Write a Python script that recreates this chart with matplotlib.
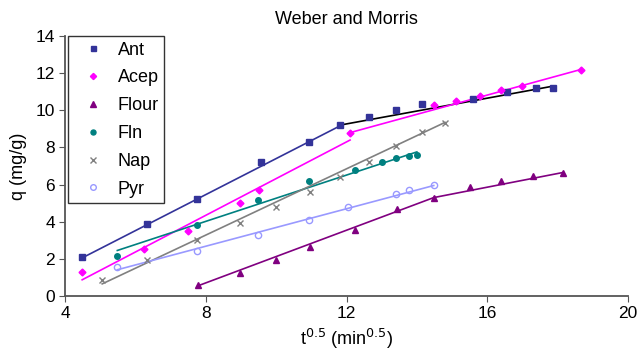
import matplotlib
matplotlib.use('Agg')
import matplotlib.pyplot as plt

plt.rcParams['font.family'] = ['Liberation Sans', 'DejaVu Sans']

# data
ant_x = [4.48, 6.33, 7.75, 9.57, 10.93, 11.8, 12.64, 13.4, 14.14, 15.6, 16.55, 17.4, 17.86]
ant_y = [2.1, 3.9, 5.2, 7.2, 8.3, 9.2, 9.66, 10.0, 10.35, 10.6, 11.0, 11.2, 11.2]
acep_x = [4.48, 6.25, 7.5, 8.97, 9.5, 12.1, 14.5, 15.1, 15.8, 16.4, 17.0, 18.66]
acep_y = [1.3, 2.55, 3.5, 5.0, 5.7, 8.8, 10.3, 10.5, 10.75, 11.1, 11.3, 12.2]
flour_x = [7.78, 8.97, 10.0, 10.96, 12.24, 13.43, 14.48, 15.5, 16.4, 17.3, 18.15]
flour_y = [0.6, 1.25, 1.95, 2.66, 3.58, 4.67, 5.3, 5.87, 6.2, 6.45, 6.65]
fln_x = [5.48, 7.75, 9.48, 10.93, 12.24, 13.0, 13.4, 13.77, 14.0]
fln_y = [2.17, 3.8, 5.15, 6.2, 6.8, 7.2, 7.43, 7.55, 7.6]
nap_x = [5.05, 6.33, 7.75, 8.97, 10.0, 10.96, 11.8, 12.64, 13.4, 14.14, 14.8]
nap_y = [0.87, 1.95, 3.04, 3.95, 4.77, 5.6, 6.4, 7.2, 8.1, 8.85, 9.33]
pyr_x = [5.48, 7.75, 9.48, 10.93, 12.05, 13.4, 13.77, 14.48]
pyr_y = [1.57, 2.44, 3.26, 4.07, 4.77, 5.48, 5.7, 5.97]

# fitted line segments (start, end)
ant_fit1_x = [4.48, 11.8]; ant_fit1_y = [2.05, 9.15]
ant_fit2_x = [11.8, 17.86]; ant_fit2_y = [9.2, 11.3]
acep_fit1_x = [4.48, 12.1]; acep_fit1_y = [0.87, 8.4]
acep_fit2_x = [12.1, 18.66]; acep_fit2_y = [8.8, 12.2]
flour_fit1_x = [7.78, 14.48]; flour_fit1_y = [0.55, 5.3]
flour_fit2_x = [14.48, 18.15]; flour_fit2_y = [5.3, 6.65]
fln_fit_x = [5.48, 14.0]; fln_fit_y = [2.45, 7.76]
nap_fit_x = [5.05, 14.8]; nap_fit_y = [0.65, 9.35]
pyr_fit_x = [5.48, 14.48]; pyr_fit_y = [1.41, 5.95]

fig = plt.figure(figsize=(6.4, 3.54), dpi=100)
ax = fig.add_axes([0.102, 0.164, 0.879, 0.734])

ax.plot(ant_fit1_x, ant_fit1_y, color='#333399', lw=1.2)
ax.plot(ant_fit2_x, ant_fit2_y, color='black', lw=1.2)
ax.plot(acep_fit1_x, acep_fit1_y, color='#FF00FF', lw=1.2)
ax.plot(acep_fit2_x, acep_fit2_y, color='#FF00FF', lw=1.2)
ax.plot(flour_fit1_x, flour_fit1_y, color='#800080', lw=1.2)
ax.plot(flour_fit2_x, flour_fit2_y, color='#800080', lw=1.2)
ax.plot(fln_fit_x, fln_fit_y, color='#008080', lw=1.2)
ax.plot(nap_fit_x, nap_fit_y, color='#808080', lw=1.2)
ax.plot(pyr_fit_x, pyr_fit_y, color='#9999FF', lw=1.2)

ax.plot(ant_x, ant_y, 's', color='#333399', ms=4, ls='none', label='Ant')
ax.plot(acep_x, acep_y, 'D', color='#FF00FF', ms=3.5, ls='none', label='Acep')
ax.plot(flour_x, flour_y, '^', color='#800080', ms=4.5, ls='none', label='Flour')
ax.plot(fln_x, fln_y, 'o', color='#008080', ms=4, ls='none', label='Fln')
ax.plot(nap_x, nap_y, 'x', color='#808080', ms=4.5, mew=1, ls='none', label='Nap')
ax.plot(pyr_x, pyr_y, 'o', mfc='none', mec='#9999FF', ms=4.5, ls='none', label='Pyr')

ax.set_xlim(4, 20)
ax.set_ylim(0, 14)
ax.set_xticks([4, 8, 12, 16, 20])
ax.set_yticks(range(0, 15, 2))
ax.tick_params(labelsize=12.5, direction='out', length=4, color='#555555')
for s in ['top', 'right']:
    ax.spines[s].set_visible(False)
for s in ['left', 'bottom']:
    ax.spines[s].set_color('#555555')
    ax.spines[s].set_linewidth(1.3)

ax.set_title('Weber and Morris', fontsize=13, pad=9)
ax.set_xlabel('t$^{0.5}$ (min$^{0.5}$)', fontsize=13, labelpad=4)
ax.set_ylabel('q (mg/g)', fontsize=13, labelpad=6)

leg = ax.legend(loc='upper left', bbox_to_anchor=(0.005, 1.0), borderaxespad=0,
                fontsize=13, frameon=True, fancybox=False, edgecolor='black',
                handlelength=2.2, handletextpad=0.25, labelspacing=0.6,
                borderpad=0.3, markerscale=0.9)
leg.get_frame().set_linewidth(1.0)

fig.savefig('out.png', dpi=100)
